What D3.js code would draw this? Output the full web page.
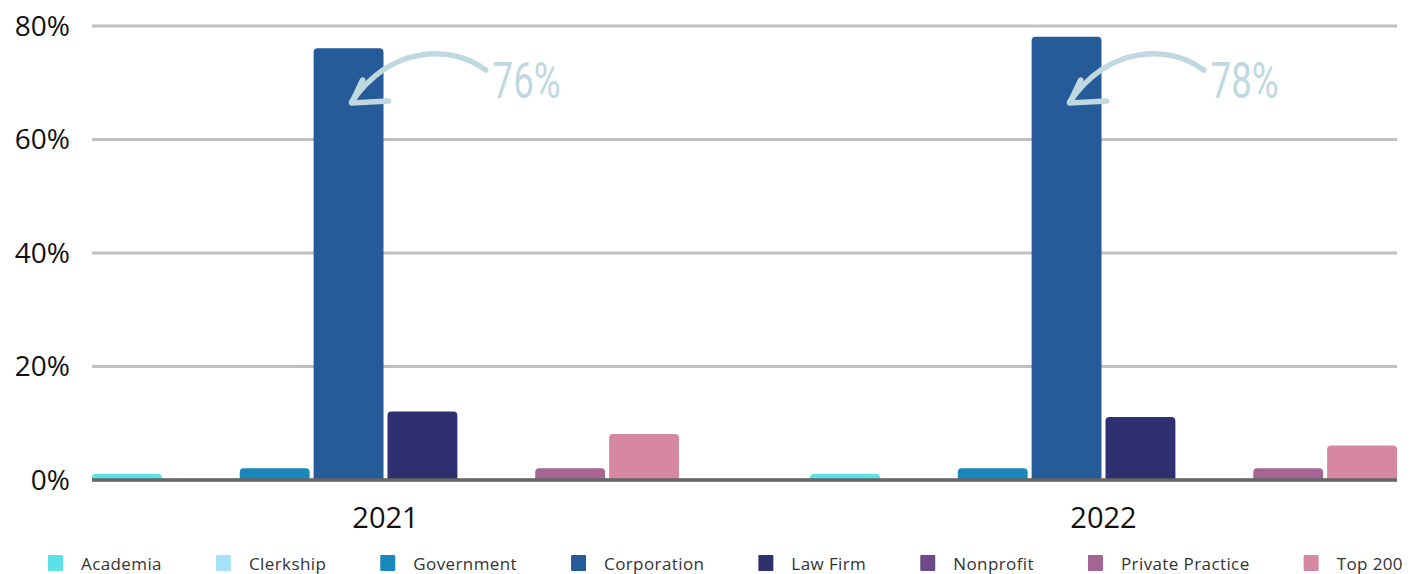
<!DOCTYPE html>
<html>
<head>
<meta charset="utf-8">
<script src="https://cdn.jsdelivr.net/npm/d3@7"></script>
<style>
  html, body { margin: 0; padding: 0; background: #ffffff; }
  svg { display: block; }
</style>
</head>
<body>
<svg id="chart" width="1418" height="574"></svg>
<script>
// Employment outcomes by sector, share of graduates per year
const years = ["2021", "2022"];
const sectors = ["Academia", "Clerkship", "Government", "Corporation", "Law Firm", "Nonprofit", "Private Practice", "Top 200"];
const values2021 = [1, 0, 2, 76, 12, 0, 2, 8];
const values2022 = [1, 0, 2, 78, 11, 0, 2, 6];
const sectorColors = ["#5ce1e6", "#a6e1fa", "#1a87bb", "#265b99", "#2e3070", "#6e4a8a", "#a56594", "#d688a3"];
const yTicks = [0, 20, 40, 60, 80];
const highlightSector = "Corporation";

const valuesByYear = { "2021": values2021, "2022": values2022 };

const W = 1418, H = 574;
const margin = { left: 92, right: 21, top: 25.5, bottom: 94.5 };

const svg = d3.select("#chart");

const x0 = d3.scaleBand()
  .domain(years)
  .range([margin.left, W - margin.right])
  .paddingInner(0.1825)
  .paddingOuter(0);

const x1 = d3.scaleBand()
  .domain(sectors)
  .range([0, x0.bandwidth()])
  .paddingInner(0.054)
  .paddingOuter(0);

const y = d3.scaleLinear()
  .domain([0, 80])
  .range([H - margin.bottom, margin.top]);

const color = d3.scaleOrdinal().domain(sectors).range(sectorColors);

// Horizontal grid
const yAxis = d3.axisLeft(y)
  .tickValues(yTicks)
  .tickSize(-(W - margin.right - margin.left))
  .tickPadding(22)
  .tickFormat(d => d + "%");

const gy = svg.append("g")
  .attr("transform", `translate(${margin.left},0)`)
  .call(yAxis);
gy.select(".domain").remove();
gy.selectAll(".tick line")
  .attr("stroke", "#c0c0c0")
  .attr("stroke-width", 3);
gy.selectAll(".tick text")
  .attr("fill", "#111111")
  .attr("font-family", "'Open Sans', sans-serif")
  .attr("font-size", 28)
  .attr("dy", "0.35em");

// Bars with rounded top corners
function barPath(xp, yTop, w, yBase, r) {
  const h = yBase - yTop;
  if (h <= 0) return "";
  const rr = Math.min(r, h, w / 2);
  return `M${xp},${yBase}V${yTop + rr}Q${xp},${yTop} ${xp + rr},${yTop}` +
         `H${xp + w - rr}Q${xp + w},${yTop} ${xp + w},${yTop + rr}V${yBase}Z`;
}

const rows = years.flatMap(yr => sectors.map((s, i) => ({ year: yr, sector: s, value: valuesByYear[yr][i] })));

svg.append("g")
  .selectAll("path")
  .data(rows.filter(d => d.value > 0))
  .join("path")
  .attr("fill", d => color(d.sector))
  .attr("d", d => barPath(x0(d.year) + x1(d.sector), y(d.value), x1.bandwidth(), y(0), 4));

// Baseline
svg.append("line")
  .attr("x1", margin.left).attr("x2", W - margin.right)
  .attr("y1", y(0) + 0.5).attr("y2", y(0) + 0.5)
  .attr("stroke", "#666666")
  .attr("stroke-width", 3.5);

// Year labels
const xAxis = d3.axisBottom(x0).tickSize(0).tickPadding(28);
const gx = svg.append("g")
  .attr("transform", `translate(0,${y(0)})`)
  .call(xAxis);
gx.select(".domain").remove();
gx.selectAll(".tick text")
  .attr("fill", "#111111")
  .attr("font-family", "'Open Sans', sans-serif")
  .attr("font-size", 29);

// Callouts for the leading sector
const noteColor = "#c0d8df";
const notes = svg.append("g");
years.forEach(yr => {
  const i = sectors.indexOf(highlightSector);
  const v = valuesByYear[yr][i];
  const bx = x0(yr) + x1(highlightSector);
  const g = notes.append("g");
  g.append("path")
    .attr("d", `M${bx + 172},${70} C${bx + 140},${45} ${bx + 78},${44} ${bx + 38},${102}`)
    .attr("fill", "none")
    .attr("stroke", noteColor)
    .attr("stroke-width", 5.5)
    .attr("stroke-linecap", "round");
  g.append("path")
    .attr("d", `M${bx + 49},${80} L${bx + 38},${103} L${bx + 75},${101}`)
    .attr("fill", "none")
    .attr("stroke", noteColor)
    .attr("stroke-width", 5.5)
    .attr("stroke-linecap", "round")
    .attr("stroke-linejoin", "round");
  g.append("text")
    .attr("x", bx + 179)
    .attr("y", 98)
    .attr("fill", noteColor)
    .attr("font-family", "Roboto, sans-serif")
    .attr("font-weight", 400)
    .attr("font-size", 50)
    .attr("textLength", 68)
    .attr("lengthAdjust", "spacingAndGlyphs")
    .text(v + "%");
});

// Legend
const legend = svg.append("g");
const legendStart = 48, legendEnd = 1403, sw = 15, textGap = 18;
const items = legend.selectAll("g")
  .data(sectors)
  .join("g");
items.append("rect")
  .attr("width", sw).attr("height", 16)
  .attr("y", 555)
  .attr("rx", 1)
  .attr("fill", d => color(d));
items.append("text")
  .attr("x", sw + textGap)
  .attr("y", 570)
  .attr("fill", "#333333")
  .attr("font-family", "'Open Sans', sans-serif")
  .attr("font-size", 17)
  .attr("letter-spacing", 0.4)
  .text(d => d);

const widths = [];
items.each(function () {
  widths.push(sw + textGap + d3.select(this).select("text").node().getComputedTextLength());
});
const totalW = d3.sum(widths);
const gap = (legendEnd - legendStart - totalW) / (sectors.length - 1);
let cx = legendStart;
items.each(function (d, i) {
  d3.select(this).attr("transform", `translate(${cx},0)`);
  cx += widths[i] + gap;
});
</script>
</body>
</html>
